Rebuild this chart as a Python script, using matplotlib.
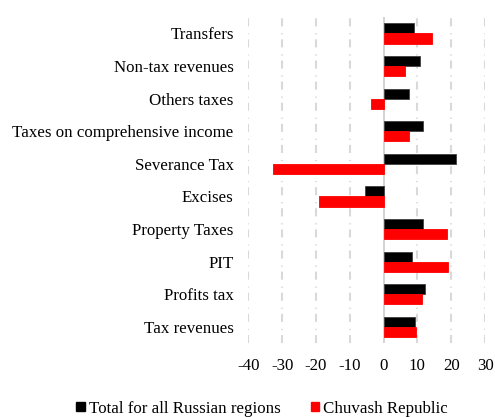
import matplotlib
matplotlib.use("Agg")
import matplotlib.pyplot as plt
import numpy as np
from matplotlib.patches import Patch

plt.rcParams['font.family'] = ['Liberation Serif', 'DejaVu Serif']
plt.rcParams['lines.scale_dashes'] = False

categories = ["Tax revenues", "Profits tax", "PIT", "Property Taxes", "Excises",
              "Severance Tax", "Taxes on comprehensive income", "Others taxes",
              "Non-tax revenues", "Transfers"]
russia = [9.3, 12.3, 8.3, 11.7, -5.4, 21.3, 11.5, 7.4, 10.9, 9.05]
chuvash = [9.5, 11.2, 18.9, 18.6, -19.2, -32.7, 7.4, -3.7, 6.2, 14.3]
xticks = [-40, -30, -20, -10, 0, 10, 20, 30]
series_names = ["Total for all Russian regions", "Chuvash Republic"]

fig = plt.figure(figsize=(4.95, 4.17), dpi=100)
ax = fig.add_axes([0.5016, 0.177, 0.4784, 0.782])

y = np.arange(len(categories))
h = 0.31
ax.barh(y + h / 2, russia, height=h, color='black', edgecolor='#404040', linewidth=0.6, zorder=3)
ax.barh(y - h / 2, chuvash, height=h, color='#ff0000', edgecolor='#ff0000', linewidth=0.6, zorder=3)

ax.set_xlim(-40, 30)
ax.set_ylim(-0.5, len(categories) - 0.5)
ax.set_xticks(xticks)
ax.set_xticklabels([str(t) for t in xticks])
ax.set_yticks(y)
ax.set_yticklabels(categories)

for t in xticks:
    if t == 0:
        ax.axvline(0, color='#d0d0d0', lw=1.3, zorder=2)
    else:
        ax.axvline(t, color='#d9d9d9', lw=1.5, linestyle=(0, (5.8, 3.6, 0.8, 5)), zorder=1)

for s in ax.spines.values():
    s.set_visible(False)
ax.tick_params(axis='both', length=0, labelsize=12.2, colors='black')
ax.tick_params(axis='x', pad=11)
ax.tick_params(axis='y', pad=10.5)

handles = [Patch(color='black'), Patch(color='#ff0000')]
fig.legend(handles, series_names, loc='center', bbox_to_anchor=(0.53, 0.02),
           ncol=2, frameon=False, fontsize=12.2, handlelength=0.48, handleheight=0.48,
           handletextpad=0.25, columnspacing=1.8)

fig.savefig("out.png", dpi=100)
